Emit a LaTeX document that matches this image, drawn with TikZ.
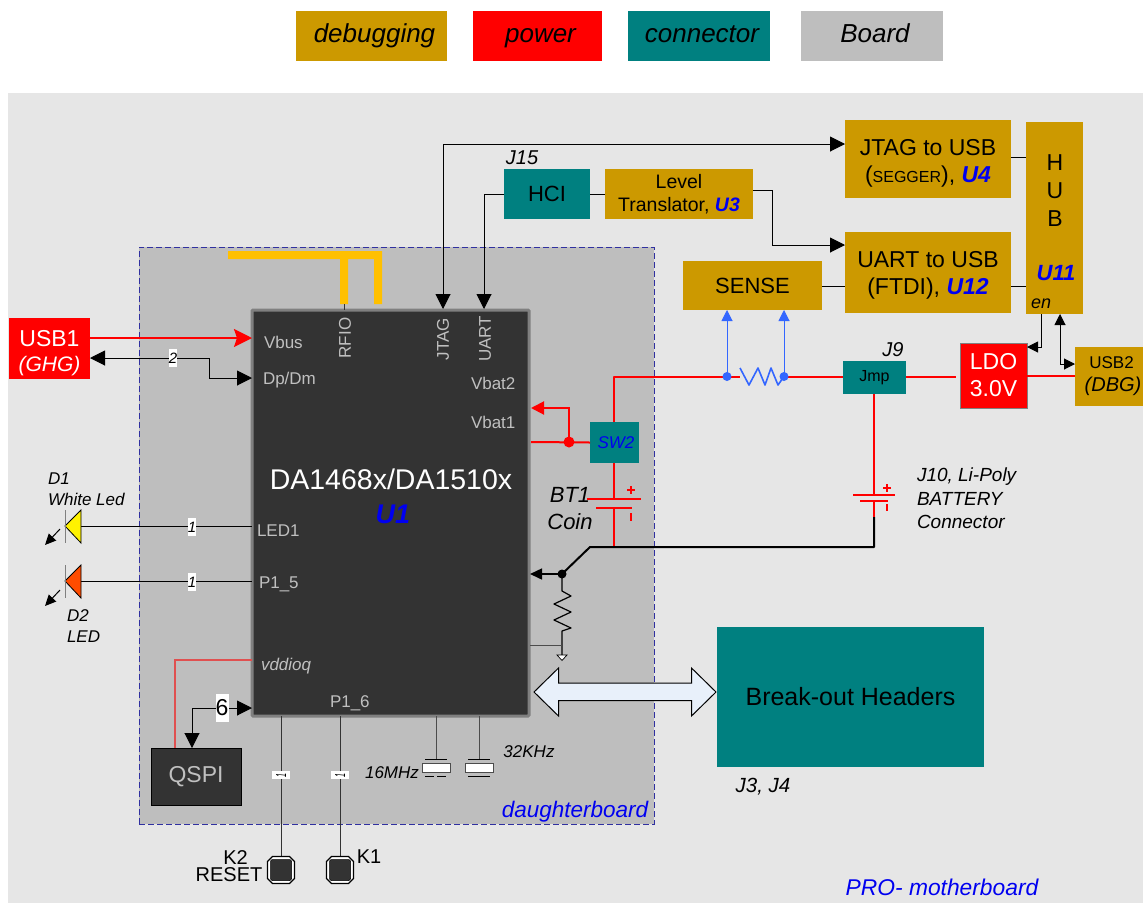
\documentclass[tikz,border=0pt]{standalone}
\usepackage{fontspec}
\setmainfont{Liberation Sans}
\usetikzlibrary{arrows.meta}
\definecolor{dbg}{HTML}{CC9900}
\definecolor{conn}{HTML}{008080}
\definecolor{board}{HTML}{BEBEBE}
\definecolor{bgd}{HTML}{E6E6E6}
\definecolor{chip}{HTML}{333333}
\definecolor{pin}{HTML}{C0C0C0}
\definecolor{ant}{HTML}{FFC000}
\definecolor{sens}{HTML}{3366FF}
\definecolor{navy}{HTML}{3030A0}
\definecolor{ublue}{HTML}{0000F0}
\definecolor{soft}{HTML}{E05050}
\definecolor{pale}{HTML}{E8F0FA}
\newcommand\fs[2]{\fontsize{#1}{#2}\selectfont}
\newcommand\uid[1]{{\bfseries\itshape\color{ublue}#1}}
\newcommand\pbox[7]{\node[flat,#6,minimum width={(#4-#2)*1pt},minimum height={(#5-#3)*1pt}] (#1) at ({(#2+#4)/2},{(#3+#5)/2}) {#7};}
\newcommand\keyshape[2]{%
  \begin{scope}[shift={(#1,#2)}]
  \filldraw[draw=black,line width=1.3pt,fill=white,line join=round] (-8.5,-13.5) -- (8.5,-13.5) -- (13.5,-8.5) -- (13.5,8.5) -- (8.5,13.5) -- (-8.5,13.5) -- (-13.5,8.5) -- (-13.5,-8.5) -- cycle;
  \filldraw[draw=black,line width=0.5pt,fill=chip,rounded corners=2pt] (-10.5,-10.5) rectangle (10.5,10.5);
  \end{scope}}
\tikzset{
  flat/.style={inner sep=0pt,outer sep=0pt,align=center,text=black},
  txt/.style={inner sep=0pt,outer sep=0pt,align=left,text=black},
  pinl/.style={txt,text=pin,font=\fs{17}{20}},
  legend/.style={font=\fs{26}{30}\itshape,text height=19pt,text depth=6pt},
  wire/.style={line width=1pt,draw=black},
  pwr/.style={line width=2pt,draw=red},
  blk/.style={line width=2pt,draw=black},
  tip/.style={-{Triangle[length=15pt,width=15pt]}},
  tips/.style={{Triangle[length=15pt,width=15pt]}-{Triangle[length=15pt,width=15pt]}},
  tipm/.style={-{Triangle[length=11pt,width=11pt]}},
  tipsm/.style={{Triangle[length=11pt,width=11pt]}-{Triangle[length=11pt,width=11pt]}},
  count/.style={fill=white,inner sep=0pt,outer sep=0pt,minimum width=8pt,minimum height=18pt,font=\fs{15}{15}\itshape},
  tick/.style={flat,fill=white,minimum width=18pt,minimum height=8pt},
  keynode/.style={inner sep=0pt,outer sep=0pt,minimum size=27pt},
}
\begin{document}
\begin{tikzpicture}[x=1pt,y=-1pt]
\useasboundingbox (0,0) rectangle (1143,903);
\fill[white] (0,0) rectangle (1143,903);
% boards
\pbox{mother}{8}{93}{1143}{903}{fill=bgd}{}
\pbox{daughter}{139}{247}{654}{824}{fill=board,draw=navy,line width=0.9pt,dash pattern=on 6pt off 3pt}{}
% legend
\pbox{lgdbg}{296}{11}{447}{61}{fill=dbg,legend}{\hspace*{6pt}debugging}
\pbox{lgpow}{473}{11}{602}{61}{fill=red,legend}{\hspace*{6pt}power}
\pbox{lgcon}{628}{11}{770}{61}{fill=conn,legend}{\hspace*{6pt}connector}
\pbox{lgbrd}{801}{11}{943}{61}{fill=board,legend}{\hspace*{6pt}Board}
% antenna
\fill[ant] (228,251) -- (382,251) -- (382,304) -- (374,304) -- (374,259) -- (348,259) -- (348,304) -- (340,304) -- (340,259) -- (228,259) -- cycle;
% main chip
\pbox{u1}{252}{310}{529}{716}{fill=chip,draw=gray,line width=3pt,rounded corners=1pt}{}
\coordinate (pVbus) at (252,338);
\coordinate (pDp) at (252,378);
\coordinate (pLed) at (252,526);
\coordinate (pP15) at (252,581);
\coordinate (pVdd) at (252,660);
\coordinate (pQ) at (252,708);
\coordinate (pJtag) at (443,309);
\coordinate (pUart) at (484,309);
\coordinate (pRf) at (344,310);
\coordinate (pVb2) at (531,408);
\coordinate (pVb1) at (531,442);
\coordinate (pVr) at (530,574);
\coordinate (pGnd) at (530,645);
\coordinate (pK2) at (281,716);
\coordinate (pK1) at (340,716);
\coordinate (pX1) at (436,716);
\coordinate (pX2) at (479,716);
\draw[line width=1pt,draw=chip] (344,304) -- (pRf);
\node[flat,text=white,font=\fs{28.5}{32}] (u1name) at (391,479) {DA1468x/DA1510x};
\node[flat,font=\fs{27}{30}] (u1id) at (393,514) {\uid{U1}};
\node[pinl,anchor=west] (tVbus) at (264,342) {Vbus};
\node[pinl,anchor=west] (tDp) at (263,380) {Dp/Dm};
\node[pinl,rotate=90] (tRf) at (345,338) {RFIO};
\node[pinl,rotate=90] (tJt) at (443,339) {JTAG};
\node[pinl,rotate=90] (tUa) at (485,339) {UART};
\node[pinl,anchor=west] (tV2) at (471,383) {Vbat2};
\node[pinl,anchor=west] (tV1) at (471,422) {Vbat1};
\node[pinl,anchor=west] (tLed) at (257,531) {LED1};
\node[pinl,anchor=west] (tP5) at (259,584) {P1\_5};
\node[pinl,anchor=west,font=\fs{17}{20}\itshape] (tVd) at (261,666) {vddioq};
\node[pinl,anchor=west] (tP6) at (330,703) {P1\_6};
% usb1
\pbox{usb1}{9}{318}{90}{379}{fill=red,text=white,font=\fs{23}{26}}{\rule{0pt}{26pt}USB1\\[-1pt]{\itshape\fs{21}{24}(GHG)}}
\draw[pwr,-{Stealth[length=18pt,width=18pt,inset=3pt]}] (usb1.east |- pVbus) -- (pVbus);
\draw[wire,tips] (usb1.east |- 0,358) -- (209,358) |- (pDp);
\node[count,font=\fs{15}{15}\itshape] (n2) at (173,358) {2};
% LEDs
\coordinate (d1) at (81,526);
\coordinate (d2) at (81,581);
\draw[wire] (d1) -- (pLed);
\draw[wire] (d2) -- (pP15);
\node[count] (n1a) at (192,527) {1};
\node[count] (n1b) at (192,582) {1};
\filldraw[draw=black,line width=0.8pt,fill=yellow] (65,526) -- (81,510) -- (81,543) -- cycle;
\filldraw[draw=black,line width=0.8pt,fill=orange!60!red] (65,581) -- (81,565) -- (81,598) -- cycle;
\draw[line width=0.8pt,draw=gray] (65,510) -- (65,543);
\draw[line width=0.8pt,draw=gray] (65,565) -- (65,598);
\draw[line width=1pt,-{Triangle[length=11pt,width=10pt]}] (60,529) -- (45,545);
\draw[line width=1pt,-{Triangle[length=11pt,width=10pt]}] (60,590) -- (45,606);
\node[txt,anchor=west,font=\fs{17}{21}\itshape] (d1l) at (48,489) {D1\\White Led};
\node[txt,anchor=west,font=\fs{17}{21}\itshape] (d2l) at (67,626) {D2\\LED};
% debug chain
\pbox{hci}{504}{169}{590}{219}{fill=conn,font=\fs{22}{26}}{HCI}
\pbox{lvl}{605}{169}{753}{219}{fill=dbg,font=\fs{19.5}{23.5}}{Level\\Translator, \uid{U3}}
\pbox{jtag}{845}{120}{1011}{198}{fill=dbg,font=\fs{23}{27}}{\rule{0pt}{24pt}JTAG to USB\\(\fs{16}{27}SEGGER\fs{23}{27}), \uid{U4}}
\pbox{uart}{845}{232}{1011}{313}{fill=dbg,font=\fs{23}{27}}{\rule{0pt}{22pt}UART to USB\\(FTDI), \uid{U12}}
\pbox{sense}{683}{261}{822}{310}{fill=dbg,font=\fs{22}{26}}{SENSE}
\pbox{hub}{1026}{122}{1083}{314}{fill=dbg}{}
\node[flat,font=\fs{23}{28}] (hubt) at (1055,191) {H\\U\\B};
\node[flat,font=\fs{22}{26}] (u11) at (1056,273) {\uid{U11}};
\node[flat,font=\fs{18}{20}\itshape] (en) at (1041,304) {en};
\node[txt,anchor=center,font=\fs{20}{22}\itshape] (j15) at (522,158) {J15};
\coordinate (jin) at (845,144);
\draw[wire,tip] (pJtag |- jin) -- (jin);
\draw[wire,tip] (pJtag |- jin) -- (pJtag);
\draw[wire,tip] (hci.west) -- (pUart |- hci.west) -- (pUart);
\draw[wire] (hci.east) -- (lvl.west |- hci.east);
\coordinate (lvlo) at (753,190);
\coordinate (uarti) at (845,245);
\draw[wire,tip] (lvlo) -- (772,190) |- (uarti);
\draw[wire] (sense.east |- 0,286) -- (uart.west |- 0,286);
\draw[wire] (jtag.east |- 0,157) -- (hub.west |- 0,157);
\draw[wire] (uart.east |- 0,286) -- (hub.west |- 0,286);
% LDO, USB2, Jmp
\pbox{ldo}{960}{343}{1027}{408}{fill=red,draw=gray,line width=1pt,text=white,font=\fs{23}{27}}{LDO\\3.0V}
\pbox{usb2}{1075}{347}{1143}{406}{fill=dbg,font=\fs{17}{24}}{\hspace*{5pt}USB2\\[-1pt]\hspace*{8pt}{\fs{20}{24}\itshape(DBG)}}
\pbox{jmp}{843}{361}{906}{394}{fill=conn,font=\fs{16}{20}}{Jmp}
\pbox{sw2}{590}{422}{639}{463}{fill=conn,font=\fs{17}{20}\itshape,text=ublue}{\hspace*{3pt}SW2}
\node[flat,font=\fs{20}{22}\itshape] (j9) at (893,350) {J9};
\coordinate (ldoin) at (956,377);
\draw[pwr] (jmp.east |- ldoin) -- (ldoin);
\draw[pwr] (ldo.east |- 0,376) -- (usb2.west |- 0,376);
\draw[wire,tipm] (1041,314) -- (1041,347) -- (ldo.east |- 0,347);
\draw[wire,tipsm] (1060,314) -- (1060,364) -- (usb2.west |- 0,364);
% sense resistor
\coordinate (rA) at (727,376.5);
\coordinate (rB) at (784,376.5);
\draw[pwr,line join=round] (614,422) -- (614,376.5) -- (rA) -- (740,376.5);
\draw[line width=1.6pt,draw=sens,line join=round] (740,368) -- (749,385) -- (758,368) -- (765,385) -- (771,368) -- (778,385) -- (rB);
\draw[pwr] (rB) -- (jmp.west |- rB);
\fill[sens] (rA) circle (4.5pt);
\fill[sens] (rB) circle (4.5pt);
\draw[line width=1pt,draw=sens,-{Triangle[length=11pt,width=11pt]}] (rA) -- (rA |- sense.south);
\draw[line width=1pt,draw=sens,-{Triangle[length=11pt,width=11pt]}] (rB) -- (rB |- sense.south);
% SW2 connections
\coordinate (dotR) at (569,442);
\draw[pwr] (sw2.west) -- (pVb1);
\draw[pwr,-{Triangle[length=13pt,width=13pt]}] (dotR) -- (569,408) -- (pVb2);
\fill[red] (dotR) circle (5.5pt);
\coordinate (bt1a) at (614,499);
\coordinate (bt1b) at (614,508);
\coordinate (junc) at (614,547);
\draw[pwr] (614,463) -- (bt1a);
\draw[pwr] (bt1b) -- (junc);
\draw[pwr] (587,499) -- (641,499);
\draw[pwr] (596,508) -- (632,508);
\draw[pwr] (627,490) -- (635,490);
\draw[pwr] (631,486) -- (631,494);
\draw[pwr] (631,513) -- (631,521);
\node[flat,font=\fs{22}{27}\itshape] (bt1l) at (570,509) {BT1\\Coin};
% li-poly battery
\coordinate (li) at (874,517);
\draw[pwr] (jmp.south -| li) -- (874,495);
\draw[pwr] (853,495) -- (895,495);
\draw[pwr] (860,501) -- (888,501);
\draw[pwr] (874,501) -- (li);
\draw[pwr] (883,488) -- (891,488);
\draw[pwr] (887,484) -- (887,492);
\draw[pwr] (887,504) -- (887,511);
\node[txt,anchor=west,font=\fs{19}{23.5}\itshape] (j10) at (917,498.5) {J10, Li-Poly\\BATTERY\\Connector};
% ground rail
\coordinate (jn) at (562,574);
\draw[blk,line join=round] (li) -- (874,547) -- (590,547) -- (jn);
\draw[wire,line width=1.5pt,-{Triangle[length=12pt,width=11pt]}] (jn) -- (pVr);
\fill[black] (jn) circle (4.5pt);
\draw[wire,line join=round,line width=1.2pt] (jn) -- (562,591) -- (571,596) -- (554,604) -- (571,612) -- (554,620) -- (571,628) -- (562,631) -- (562,655);
\draw[wire,draw=black!70] (pGnd) -- (562,645);
\filldraw[draw=black,line width=0.7pt,fill=white] (557,655) -- (567,655) -- (562,660.5) -- cycle;
% breakout
\pbox{brk}{717}{627}{984}{767}{fill=conn,font=\fs{25}{30}}{Break-out Headers}
\filldraw[fill=pale,draw=black,line width=1pt,line join=miter] (534,692) -- (558.5,668) -- (558.5,683) -- (691.5,683) -- (691.5,668) -- (716,692) -- (691.5,716) -- (691.5,700.5) -- (558.5,700.5) -- (558.5,716) -- cycle;
\node[flat,font=\fs{20.5}{22}\itshape] (j34) at (763,787) {J3, J4};
% QSPI
\pbox{qspi}{151}{748}{241}{805}{fill=chip,draw=black,line width=1pt,text=pin,font=\fs{23}{26}}{QSPI}
\draw[line width=1.5pt,draw=soft] (pVdd) -- (175,660) -- (175,748);
\draw[wire,tips] (192,748) -- (192,708) -- (pQ);
\node[count,font=\fs{23}{23},minimum width=13pt,minimum height=28pt] (n6) at (222,708) {\upshape 6};
% keys
\node[keynode] (k2) at (281,870) {};
\node[keynode] (k1) at (340,870) {};
\draw[wire,draw=black!80] (pK2) -- (k2.north);
\draw[wire,draw=black!80] (pK1) -- (k1.north);
\keyshape{281}{870}
\keyshape{340}{870}
\node[tick] (n1c) at (281,775) {\resizebox{10pt}{4pt}{\rotatebox{90}{\itshape 1}}};
\node[tick] (n1d) at (340,775) {\resizebox{10pt}{4pt}{\rotatebox{90}{\itshape 1}}};
\node[flat,font=\fs{20}{17}] (k2l) at (229,866) {\hspace{13pt}K2\\RESET};
\node[flat,font=\fs{20}{20}] (k1l) at (369,857) {K1};
% crystals
\node[flat,fill=white,draw=black!70,line width=0.8pt,minimum width=28pt,minimum height=9pt] (x1) at (436,767.5) {};
\node[flat,fill=white,draw=black!70,line width=0.8pt,minimum width=28pt,minimum height=9pt] (x2) at (479,767.5) {};
\draw[wire,draw=black!70] (pX1) -- (436,759);
\draw[wire,draw=black!70] (pX2) -- (479,759);
\draw[wire] (425,759.5) -- (447,759.5);
\draw[wire] (468,759.5) -- (490,759.5);
\draw[wire,dash pattern=on 9pt off 3pt] (425,776) -- (447,776);
\draw[wire] (468,776) -- (490,776);
\node[flat,font=\fs{17}{20}\itshape] (x1l) at (392,773) {16MHz};
\node[flat,font=\fs{17}{20}\itshape] (x2l) at (529,752) {32KHz};
% captions
\node[flat,font=\fs{22.5}{24}\itshape,text=ublue] (dl) at (575,812) {daughterboard};
\node[flat,font=\fs{22.8}{24}\itshape,text=ublue] (ml) at (942,887) {PRO- motherboard};
\end{tikzpicture}
\end{document}
